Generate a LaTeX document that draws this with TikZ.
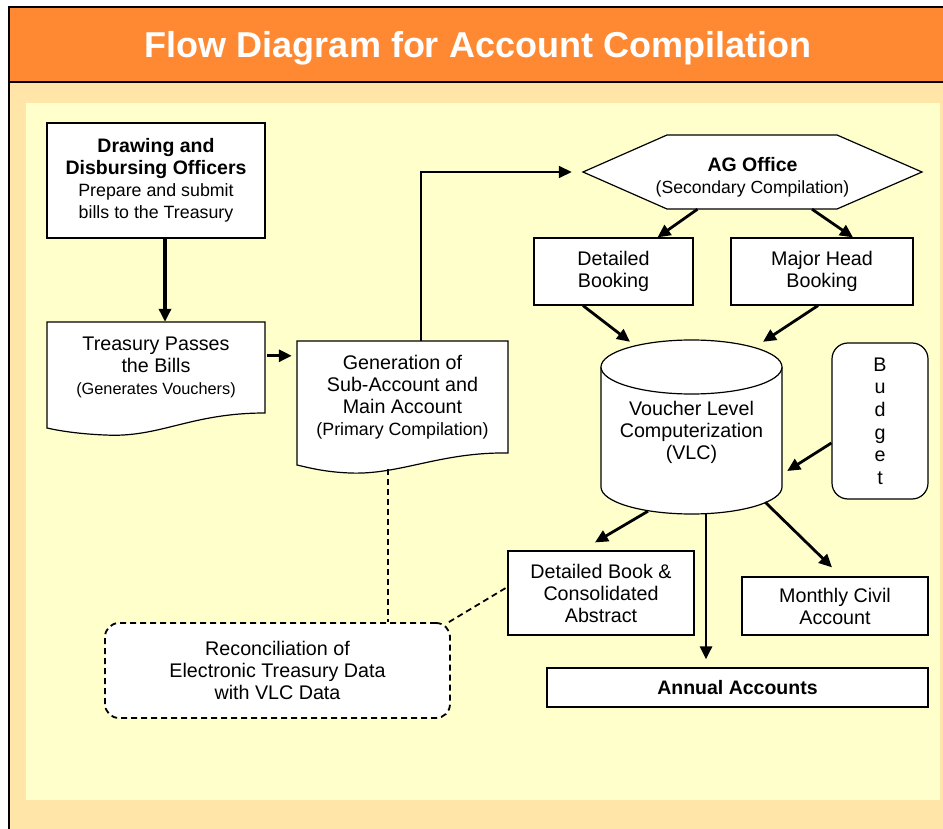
\documentclass[tikz,border=0pt]{standalone}
\usepackage{fontspec}
\setmainfont{Liberation Sans}
\usetikzlibrary{arrows.meta,calc}
\definecolor{headorange}{RGB}{255,136,51}
\definecolor{bodytan}{RGB}{255,230,168}
\definecolor{paleyellow}{RGB}{255,255,204}
\tikzset{
  txt/.style={align=center, inner sep=0pt, font=\fontsize{19.7}{22}\selectfont},
  box/.style={txt, draw, fill=white, line width=1.2pt},
  arr/.style={-{Triangle[length=13pt,width=12pt]}, line width=2.8pt},
  dashlink/.style={line width=1.8pt, dash pattern=on 6pt off 4pt},
}
\begin{document}
\begin{tikzpicture}[x=1pt,y=-1pt]
\useasboundingbox (0,0) rectangle (943,829);

% Background and header
\fill[bodytan] (9,82) rectangle (943,829);
\fill[paleyellow] (26,103) rectangle (940,800);
\fill[headorange] (9,7) rectangle (943,82);
\draw[line width=2pt] (943,7) -- (9,7) -- (9,829);
\draw[line width=2pt] (9,82) -- (943,82);
\node[font=\bfseries\fontsize{36}{40}\selectfont, text=white] (title) at (478,48) {Flow Diagram for Account Compilation};

% Document shapes
\draw[fill=white, line width=1.2pt] (47,322) -- (265,322) -- (265,413) .. controls (190,413) and (160,438) .. (105,435) .. controls (80,434) and (60,431) .. (47,428) -- cycle;
\draw[fill=white, line width=1.2pt] (297,341) -- (508,341) -- (508,453) .. controls (440,452) and (400,475) .. (350,473) .. controls (325,472) and (310,468) .. (297,465) -- cycle;

% Hexagon
\draw[fill=white, line width=1.2pt] (583,172) -- (667,135) -- (837,135) -- (922,172) -- (837,209) -- (667,209) -- cycle;

% Cylinder
\draw[fill=white, line width=1.2pt] (601,367) -- (601,487) arc[start angle=180, end angle=0, x radius=90.5, y radius=27] -- (782,367);
\draw[fill=white, line width=1.2pt] (691.5,367) ellipse [x radius=90.5, y radius=27];

% Nodes
\node[box, minimum width=218pt, minimum height=115pt] (ddo) at (156,180.5) {{\fontsize{19.5}{22}\selectfont\bfseries Drawing and}\\{\fontsize{19.5}{22}\selectfont\bfseries Disbursing Officers}\\{\fontsize{17.8}{22}\selectfont Prepare and submit}\\{\fontsize{17.8}{21}\selectfont bills to the Treasury}};
\node[txt, minimum width=218pt, minimum height=91pt] (treasury) at (156,367.5) {Treasury Passes\\the Bills\\{\fontsize{16.3}{21}\selectfont (Generates Vouchers)}};
\node[txt, minimum width=211pt, minimum height=112pt] (gen) at (402.5,397) {Generation of\\Sub-Account and\\Main Account\\{\fontsize{17.8}{22}\selectfont (Primary Compilation)}};
\node[txt, minimum width=339pt, minimum height=64pt] (ag) at (752.5,177) {{\fontsize{19.5}{22}\selectfont\bfseries AG Office}\\{\fontsize{17.6}{23}\selectfont (Secondary Compilation)}};
\node[box, minimum width=159pt, minimum height=67pt] (detb) at (613.5,271.5) {Detailed\\Booking};
\node[box, minimum width=182pt, minimum height=67pt] (major) at (822,271.5) {Major Head\\Booking};
\node[txt, minimum width=181pt, minimum height=162pt] (vlc) at (691.5,432) {Voucher Level\\Computerization\\(VLC)};
\node[box, rounded corners=16pt, minimum width=96pt, minimum height=156pt, font=\fontsize{19.7}{22.6}\selectfont] (budget) at (880,421) {B\\u\\d\\g\\e\\t};
\node[box, minimum width=186pt, minimum height=84pt] (detbook) at (601,593) {Detailed Book \&\\Consolidated\\Abstract};
\node[box, minimum width=186pt, minimum height=58pt] (monthly) at (835,606) {Monthly Civil\\Account};
\node[box, minimum width=381pt, minimum height=39pt, font=\bfseries\fontsize{19.5}{22}\selectfont] (annual) at (737.5,687.5) {Annual Accounts};
\node[box, dashlink, rounded corners=14pt, minimum width=345pt, minimum height=95pt] (recon) at (277.5,670.5) {Reconciliation of\\Electronic Treasury Data\\with VLC Data};

% Connectors
\draw[arr, line width=3.3pt] ($(ddo.south)+(9,0)$) -- ($(treasury.north)+(9,0)$);
\draw[arr] ($(treasury.north east)+(2,34)$) -- ($(gen.north west)+(-5,15)$);
\draw[arr, line width=1.6pt] ($(gen.north west)+(124,0)$) |- ($(ag.west)+(-11,-5)$);
\draw[arr] ($(ag.south)+(-55,0)$) -- ($(detb.north)+(44,0)$);
\draw[arr] ($(ag.south)+(59.5,0)$) -- ($(major.north)+(31,0)$);
\draw[arr] ($(detb.south)+(-30.5,0)$) -- ($(vlc.north)+(-61.5,-9)$);
\draw[arr] ($(major.south)+(-4,0)$) -- ($(vlc.north)+(71.5,-9)$);
\draw[arr] ($(budget.west)+(0,22)$) -- ($(vlc.east)+(5,39)$);
\draw[arr] ($(vlc.south)+(-43.5,-2)$) -- ($(detbook.north)+(-6,-8)$);
\draw[arr] ($(vlc.south)+(14.5,0)$) -- ($(annual.north)+(-31.5,-8)$);
\draw[arr] ($(vlc.south east)+(-17,-11)$) -- ($(monthly.north)+(-3,-9)$);
\draw[dashlink] ($(gen.south)+(-14.5,16)$) -- ($(recon.north)+(110.5,0)$);
\draw[dashlink] ($(recon.north east)+(-2,0)$) -- ($(detbook.west)+(0,-6)$);

\end{tikzpicture}
\end{document}
